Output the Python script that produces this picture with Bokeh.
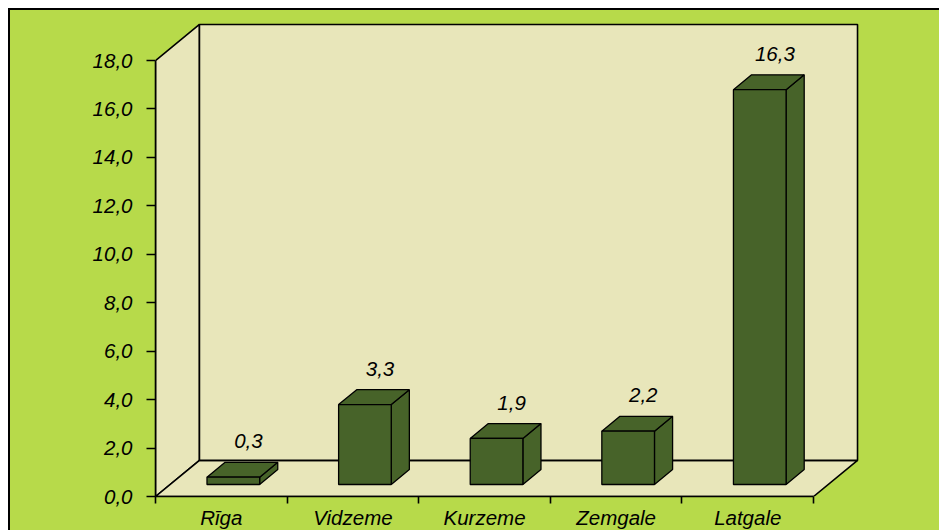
from bokeh.plotting import figure
from bokeh.models import Range1d, FixedTicker, ColumnDataSource
from bokeh.embed import file_html
from bokeh.resources import INLINE
from bokeh.core.properties import value

# ---- data ----
categories = ["Rīga", "Vidzeme", "Kurzeme", "Zemgale", "Latgale"]
values = [0.3, 3.3, 1.9, 2.2, 16.3]
value_labels = ["0,3", "3,3", "1,9", "2,2", "16,3"]
y_ticks = [0, 2, 4, 6, 8, 10, 12, 14, 16, 18]
y_tick_labels = ["0,0", "2,0", "4,0", "6,0", "8,0", "10,0", "12,0", "14,0", "16,0", "18,0"]

# ---- 3D geometry (style) ----
N = len(categories)
Y_MAX = y_ticks[-1]
DX = 0.334    # wall depth offset in category units
DY = 1.49     # wall depth offset in value units
D0, D1 = 0.333, 0.745   # bar front/back depth fractions
BL, BR = 0.28, 0.68     # bar left/right within category
PADX, PADY = 0.015, 0.08
LABEL_DX = -0.023
LABEL_GAP = 0.87

GREEN = "#B7DA4A"
BEIGE = "#E8E6BA"
BAR = "#476329"
FONT = "Liberation Sans"
FSIZE = "20.5px"

p = figure(width=931, height=522,
           x_range=Range1d(0, N + DX + PADX), y_range=Range1d(0, Y_MAX + DY + PADY),
           output_backend="svg", toolbar_location=None,
           min_border_left=145, min_border_right=82, min_border_top=12, min_border_bottom=36,
           background_fill_color=GREEN, border_fill_color=GREEN, outline_line_color=None)
p.grid.visible = False
p.styles = {"margin-top": "8px", "margin-left": "8px", "background-color": GREEN,
            "border-top": "2px solid black", "border-left": "2px solid black"}

# walls
walls = ColumnDataSource(dict(
    xs=[[0, DX, DX, 0], [0, N, N + DX, DX], [DX, N + DX, N + DX, DX]],
    ys=[[0, DY, Y_MAX + DY, Y_MAX], [0, 0, DY, DY], [DY, DY, Y_MAX + DY, Y_MAX + DY]],
))
p.patches("xs", "ys", source=walls, fill_color=BEIGE, line_color="black", line_width=1.6)

# bars
fx, fy, tx, ty, sx, sy = [], [], [], [], [], []
lx, ly = [], []
for i, v in enumerate(values):
    xl0 = i + BL + D0 * DX
    xr0 = i + BR + D0 * DX
    xl1 = i + BL + D1 * DX
    xr1 = i + BR + D1 * DX
    y0 = D0 * DY
    y1 = D1 * DY
    fx.append([xl0, xr0, xr0, xl0]); fy.append([y0, y0, y0 + v, y0 + v])
    tx.append([xl0, xr0, xr1, xl1]); ty.append([y0 + v, y0 + v, y1 + v, y1 + v])
    sx.append([xr0, xr1, xr1, xr0]); sy.append([y0, y1, y1 + v, y0 + v])
    lx.append(i + (BL + BR) / 2 + D1 * DX + LABEL_DX)
    ly.append(v + y1 + LABEL_GAP)

for xs, ys in ((sx, sy), (tx, ty), (fx, fy)):
    p.patches(xs, ys, fill_color=BAR, line_color="black", line_width=1.3)

p.text(x=lx, y=ly, text=value_labels, text_font=value(FONT), text_font_style="italic",
       text_font_size=FSIZE, text_align="center", text_baseline="middle", text_color="black")

# y axis
ya = p.yaxis[0]
ya.ticker = FixedTicker(ticks=y_ticks, minor_ticks=[])
ya.bounds = (0, Y_MAX)
ya.major_label_overrides = dict(zip(y_ticks, y_tick_labels))
ya.major_tick_out = 9
ya.major_tick_in = 0
ya.major_tick_line_width = 1.6
ya.axis_line_width = 1.6
ya.major_label_standoff = 14
ya.major_label_text_font = FONT
ya.major_label_text_font_style = "italic"
ya.major_label_text_font_size = FSIZE
ya.major_label_text_color = "black"

# x axis
xa = p.xaxis[0]
centers = [i + 0.5 for i in range(N)]
xa.ticker = FixedTicker(ticks=centers, minor_ticks=list(range(N + 1)))
xa.bounds = (0, N)
xa.major_label_overrides = dict(zip(centers, categories))
xa.major_tick_out = 0
xa.major_tick_in = 0
xa.minor_tick_out = 7
xa.minor_tick_in = 0
xa.minor_tick_line_width = 1.6
xa.minor_tick_line_color = "black"
xa.axis_line_width = 1.6
xa.major_label_standoff = 2
xa.major_label_text_font = FONT
xa.major_label_text_font_style = "italic"
xa.major_label_text_font_size = FSIZE
xa.major_label_text_color = "black"

open("out.html", "w").write(file_html(p, INLINE, title="chart"))
